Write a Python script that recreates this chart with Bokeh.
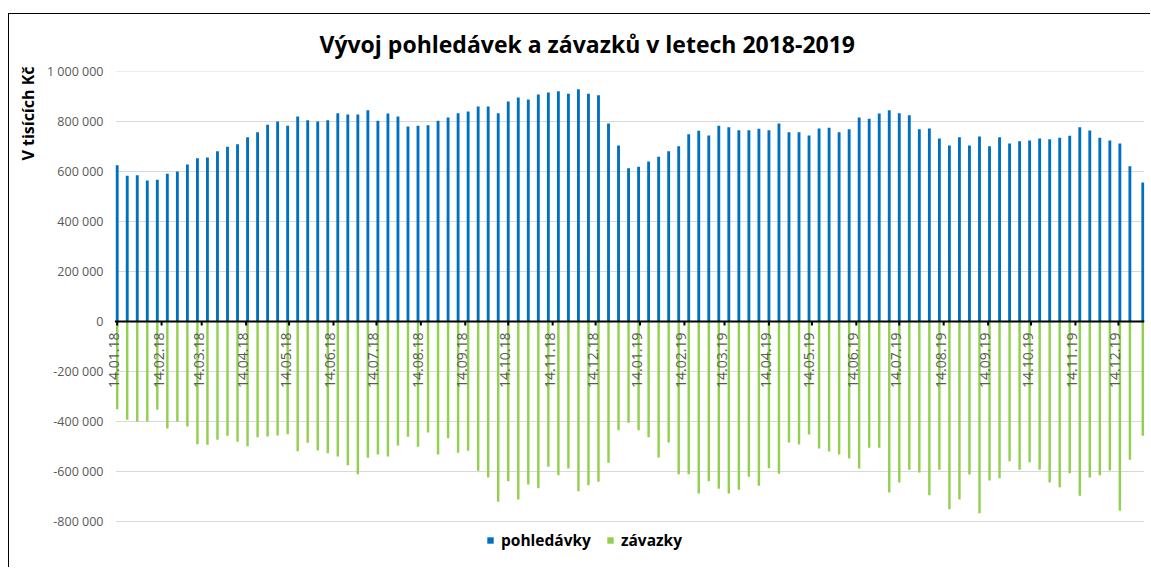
import math
import pandas as pd
from bokeh.plotting import figure
from bokeh.models import (Range1d, FixedTicker, Legend, LegendItem, Title, ColumnDataSource)
from bokeh.core.properties import value
from bokeh.embed import file_html
from bokeh.resources import INLINE

# ---------------- data ----------------
title_text = "Vývoj pohledávek a závazků v letech 2018-2019"
y_axis_title = "V tisících Kč"
series_names = ["pohledávky", "závazky"]

week_dates = list(pd.date_range("2018-01-14", periods=102, freq="7D")) + [pd.Timestamp("2019-12-31")]

pohledavky = [
    625000, 583000, 585000, 564000, 567000, 591000, 600000, 628000, 653000, 656000,
    681000, 699000, 709000, 737000, 757000, 787000, 800000, 783000, 820000, 805000,
    800000, 805000, 833000, 828000, 828000, 845000, 803000, 832000, 820000, 780000,
    783000, 785000, 803000, 816000, 833000, 840000, 860000, 860000, 833000, 880000,
    896000, 888000, 908000, 916000, 921000, 911000, 929000, 911000, 905000, 792000,
    704000, 613000, 619000, 640000, 659000, 681000, 701000, 749000, 763000, 744000,
    783000, 777000, 765000, 765000, 771000, 765000, 792000, 757000, 757000, 744000,
    772000, 775000, 757000, 769000, 816000, 811000, 832000, 845000, 833000, 825000,
    769000, 772000, 732000, 704000, 737000, 704000, 740000, 701000, 737000, 712000,
    721000, 724000, 732000, 729000, 735000, 743000, 777000, 764000, 735000, 724000,
    712000, 621000, 556000,
]

zavazky = [
    -351000, -393000, -401000, -400000, -353000, -428000, -400000, -420000, -491000, -493000,
    -473000, -457000, -481000, -499000, -463000, -460000, -456000, -451000, -519000, -485000,
    -516000, -527000, -540000, -575000, -611000, -545000, -532000, -540000, -496000, -461000,
    -501000, -444000, -532000, -467000, -525000, -517000, -597000, -624000, -721000, -639000,
    -712000, -652000, -667000, -581000, -615000, -588000, -679000, -655000, -641000, -565000,
    -435000, -405000, -435000, -463000, -544000, -484000, -611000, -611000, -688000, -639000,
    -669000, -688000, -673000, -621000, -657000, -587000, -609000, -484000, -492000, -452000,
    -508000, -520000, -532000, -548000, -588000, -505000, -505000, -684000, -644000, -593000,
    -604000, -695000, -593000, -751000, -712000, -612000, -767000, -636000, -627000, -559000,
    -593000, -563000, -593000, -644000, -663000, -607000, -697000, -624000, -615000, -596000,
    -757000, -553000, -457000,
]

y_ticks = [-800000, -600000, -400000, -200000, 0, 200000, 400000, 600000, 800000, 1000000]
y_tick_labels = ["-800 000", "-600 000", "-400 000", "-200 000", "0",
                 "200 000", "400 000", "600 000", "800 000", "1 000 000"]

x_tick_labels = [
    "14.01.18", "14.02.18", "14.03.18", "14.04.18", "14.05.18", "14.06.18",
    "14.07.18", "14.08.18", "14.09.18", "14.10.18", "14.11.18", "14.12.18",
    "14.01.19", "14.02.19", "14.03.19", "14.04.19", "14.05.19", "14.06.19",
    "14.07.19", "14.08.19", "14.09.19", "14.10.19", "14.11.19", "14.12.19",
]

# ---------------- build ----------------
DAY = 86400000.0
x_ms = [d.timestamp() * 1000.0 for d in week_dates]
x_tick_ms = [pd.to_datetime(s, format="%d.%m.%y").timestamp() * 1000.0 for s in x_tick_labels]

x_start = x_ms[0] - 8.17 * DAY      # leaves room for the first rotated date label
x_end = x_ms[-1] + 1.2 * DAY
grid_start = x_ms[0] - 1.0 * DAY    # plot area (gridlines / zero line) begins here

# value axis runs -800 000 .. 1 000 000; the frame continues below to hold the legend
Y_MIN, Y_MAX = -800000, 1000000
Y_FRAME_MIN = Y_MIN - 39 * 4000     # 39 px of room under the -800 000 line

src = ColumnDataSource(dict(x=x_ms, pohledavky=pohledavky, zavazky=zavazky))
tick_src = ColumnDataSource(dict(x=x_tick_ms, label=x_tick_labels, zero=[0] * len(x_tick_ms)))
grid_src = ColumnDataSource(dict(y=y_ticks, x0=[grid_start] * len(y_ticks),
                                 x1=[x_end] * len(y_ticks)))

FONT = "Open Sans"
TICK_LEN = 16000  # ~4 px below the zero line

p = figure(width=1142, height=554, output_backend="svg", toolbar_location=None,
           x_range=Range1d(x_start, x_end),
           y_range=Range1d(Y_FRAME_MIN, Y_MAX),
           x_axis_location=None,
           min_border_left=95, min_border_right=7, min_border_top=57, min_border_bottom=8)
p.outline_line_color = None
p.background_fill_color = "white"
p.border_fill_color = "white"
# outer chart border (left and top edges visible in the window)
p.styles = {"margin-left": "8px", "margin-top": "13px",
            "border-left": "1px solid #000000", "border-top": "1px solid #000000"}

# title
p.title.text = title_text
p.title.align = "left"
p.title.offset = 214
p.title.standoff = 23
p.title.text_font = FONT
p.title.text_font_size = "23px"
p.title.text_font_style = "bold"
p.title.text_color = "#000000"

# grid (drawn across the plot area only)
p.xgrid.visible = False
p.ygrid.visible = False
p.segment(x0="x0", y0="y", x1="x1", y1="y", source=grid_src,
          line_color="#D9D9D9", line_width=1)

# y axis
ya = p.yaxis[0]
ya.ticker = FixedTicker(ticks=y_ticks)
ya.major_label_overrides = {t: l for t, l in zip(y_ticks, y_tick_labels)}
ya.axis_line_color = None
ya.major_tick_line_color = None
ya.minor_tick_line_color = None
ya.major_label_standoff = -4
ya.major_label_text_font = FONT
ya.major_label_text_font_size = "12.5px"
ya.major_label_text_color = "#595959"

p.add_layout(Title(text=y_axis_title, align="right", offset=-5, text_font=FONT,
                   text_font_size="16px", text_font_style="bold",
                   text_color="#000000"), "left")

# bars
r1 = p.vbar(x="x", top="pohledavky", bottom=0, width=2.0 * DAY, source=src,
            fill_color="#0070C0", line_color=None)
r2 = p.vbar(x="x", top=0, bottom="zavazky", width=1.7 * DAY, source=src,
            fill_color="#92D050", line_color=None)

# date axis crossing at zero: axis line, ticks, rotated labels
p.segment(x0=grid_start - 0.6 * DAY, y0=0, x1=x_end, y1=0, line_color="black", line_width=2)
p.segment(x0="x", y0="zero", x1="x", y1=-TICK_LEN, source=tick_src,
          line_color="black", line_width=2)
p.text(x="x", y="zero", text="label", source=tick_src, angle=math.pi / 2,
       text_align="right", text_baseline="middle", x_offset=-3, y_offset=11,
       text_font=value(FONT), text_font_size="14px", text_color="#595959")

# legend (inside the extended frame, under the -800 000 line)
legend = Legend(items=[LegendItem(label=series_names[0], renderers=[r1]),
                       LegendItem(label=series_names[1], renderers=[r2])],
                orientation="horizontal", location=(381, 9),
                glyph_width=8, glyph_height=8, label_standoff=7, spacing=15,
                padding=0, margin=0, border_line_color=None, background_fill_alpha=0,
                label_text_font=FONT, label_text_font_size="15.5px", label_text_font_style="bold",
                label_text_color="#000000", label_height=20)
p.add_layout(legend, "center")

open("out.html", "w").write(file_html(p, INLINE))
